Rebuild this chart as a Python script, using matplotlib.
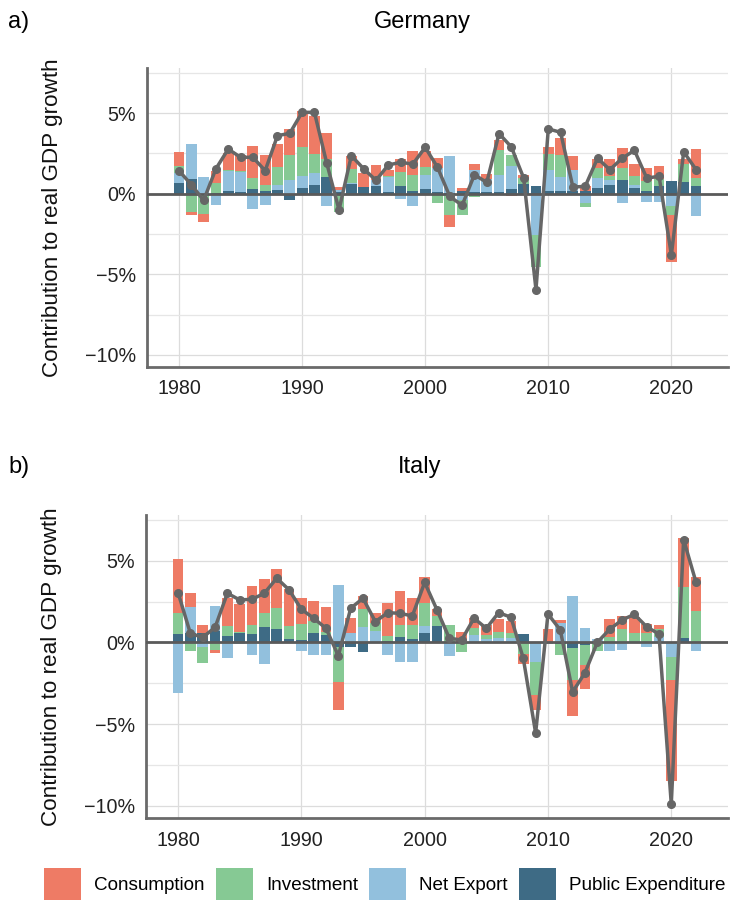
import matplotlib
matplotlib.use("Agg")
import matplotlib.pyplot as plt
from matplotlib.patches import Patch
from matplotlib.ticker import FuncFormatter, MultipleLocator
import numpy as np

plt.rcParams['font.family'] = ['Liberation Sans', 'DejaVu Sans']

years = list(range(1980, 2023))
components = ["Consumption", "Investment", "Net Export", "Public Expenditure"]
colors = ["#ee7b65", "#86c994", "#92c0dd", "#3e6b85"]

# Germany
de_cons = [0.83, -0.14, -0.54, 0.77, 1.04, 0.99, 1.99, 1.88, 1.45, 1.61,
           2.22, 2.32, 1.61, 0.14, 0.79, 0.87, 0.93, 0.39, 0.81, 1.47,
           0.97, 0.62, -0.79, 0.17, 0.35, 0.33, 0.66, -0.12, 0.17, 0.0,
           0.43, 1.04, 0.83, 0.25, 0.56, 1.06, 1.24, 0.77, 0.77, 0.83,
           -2.9, 0.3, 1.8]
de_inv = [0.46, -1.16, -1.24, 0.62, 0.1, 0.08, 0.66, 0.39, 1.1, 1.55,
          1.78, 1.2, 1.12, -1.14, 0.87, 0.0, 0.0, 0.05, 0.89, 0.97,
          0.48, -0.58, -1.3, -0.9, -0.2, 0.0, 1.51, 0.68, 0.35, -1.93,
          0.97, 1.39, 0.0, -0.27, 0.62, 0.29, 0.77, 0.52, 0.62, 0.41,
          -0.52, 1.1, 0.5]
de_netx = [0.62, 2.19, 1.03, -0.72, 1.18, 1.22, -0.95, -0.72, 0.31, 0.87,
           0.77, 0.72, -0.79, 0.15, 0.05, 0.0, 0.37, 0.91, -0.33, -0.79,
           0.89, 1.49, 2.32, -0.4, 1.4, 0.82, 1.1, 1.45, 0.0, -2.59,
           1.28, 0.89, 1.3, -0.58, 0.62, 0.27, -0.58, 0.2, -0.54, -0.54,
           -0.79, 0.0, -1.4]
de_pub = [0.66, 0.91, 0.0, 0.05, 0.2, 0.12, 0.29, 0.14, 0.25, -0.37,
          0.35, 0.56, 1.04, 0.1, 0.62, 0.41, 0.5, 0.12, 0.46, 0.2,
          0.29, 0.1, 0.05, 0.19, 0.1, 0.1, 0.08, 0.29, 0.62, 0.5,
          0.2, 0.14, 0.19, 0.2, 0.35, 0.56, 0.83, 0.35, 0.2, 0.5,
          0.77, 0.75, 0.5]
de_gdp = [1.43, 0.56, -0.41, 1.55, 2.77, 2.26, 2.26, 1.43, 3.6, 3.75,
          5.05, 5.05, 1.9, -1.0, 2.36, 1.55, 0.83, 1.78, 1.95, 1.84,
          2.88, 1.64, -0.17, -0.72, 1.18, 0.7, 3.73, 2.9, 0.97, -5.95,
          4.02, 3.81, 0.41, 0.46, 2.2, 1.49, 2.2, 2.69, 0.97, 1.08,
          -3.79, 2.6, 1.5]

# Italy
it_cons = [3.34, 0.82, 0.47, -0.16, 1.68, 1.7, 2.4, 2.09, 2.36, 2.25,
           1.6, 1.23, 1.5, -1.74, 0.88, 0.82, 0.61, 2.05, 2.05, 1.64,
           1.64, 0.41, 0.0, 0.66, 0.61, 0.61, 0.76, 0.72, -0.61, -0.88,
           0.8, 0.15, -2.19, -1.48, 0.0, 1.1, 0.74, 1.02, 0.57, 0.2,
           -6.15, 3.0, 2.1]
it_inv = [1.29, -0.51, -1.02, -0.47, 0.64, 0.05, 0.55, 0.86, 1.33, 0.82,
          0.96, 0.78, 0.2, -2.15, 0.0, 1.07, 0.45, 0.29, 0.76, 0.86,
          1.39, 0.61, 1.07, -0.57, 0.41, 0.27, 0.41, 0.31, -0.72, -2.05,
          0.0, -0.68, -1.99, -1.23, -0.55, 0.31, 0.8, 0.55, 0.55, 0.5,
          -1.43, 3.1, 1.9]
it_netx = [-3.09, 1.6, -0.27, 1.48, -0.98, -0.1, -0.78, -1.33, 0.0, 0.0,
           -0.51, -0.78, -0.78, 3.52, 0.59, 0.96, 0.72, -0.78, -1.19, -1.19,
           0.41, 0.0, -0.82, 0.0, 0.45, 0.18, 0.25, 0.25, 0.0, -1.19,
           -0.1, 1.21, 2.85, 0.86, 0.2, -0.51, -0.47, 0.0, -0.27, 0.35,
           -0.88, 0.0, -0.5]
it_pub = [0.49, 0.59, 0.59, 0.72, 0.39, 0.59, 0.51, 0.92, 0.8, 0.18,
          0.15, 0.55, 0.45, -0.27, -0.27, -0.57, 0.0, 0.1, 0.31, 0.2,
          0.59, 1.0, 0.0, 0.0, 0.0, 0.0, 0.0, 0.0, 0.49, 0.0,
          0.0, -0.1, -0.33, -0.16, 0.0, 0.0, 0.05, 0.0, 0.0, 0.0,
          0.0, 0.3, 0.0]
it_gdp = [3.05, 0.55, 0.31, 0.92, 3.01, 2.6, 2.64, 3.01, 3.93, 3.22,
          2.03, 1.48, 0.86, -0.82, 2.09, 2.7, 1.27, 1.82, 1.78, 1.62,
          3.67, 1.99, 0.25, 0.15, 1.48, 0.86, 1.82, 1.54, -0.98, -5.55,
          1.74, 0.76, -3.03, -1.86, 0.0, 0.8, 1.37, 1.72, 0.96, 0.51,
          -9.9, 6.3, 3.7]

W, H = 748, 923
fig = plt.figure(figsize=(W / 100, H / 100), dpi=100)


def draw(ax, cons, inv, netx, pub, gdp):
    x = np.array(years)
    series = [pub, netx, inv, cons]
    cols = [colors[3], colors[2], colors[1], colors[0]]
    pos_b = np.zeros(len(x))
    neg_b = np.zeros(len(x))
    for s, c in zip(series, cols):
        v = np.array(s, dtype=float)
        p = np.where(v > 0, v, 0)
        n = np.where(v < 0, v, 0)
        ax.bar(x, p, bottom=pos_b, width=0.88, color=c, linewidth=0, zorder=2)
        ax.bar(x, n, bottom=neg_b, width=0.88, color=c, linewidth=0, zorder=2)
        pos_b += p
        neg_b += n
    ax.axhline(0, color="#5a5a5a", lw=2, zorder=3)
    ax.plot(x, gdp, color="#666666", lw=2.5, marker="o", ms=5.5, zorder=4)
    ax.set_xlim(1977.4, 2024.6)
    ax.set_ylim(-10.75, 7.8)
    ax.yaxis.set_major_locator(MultipleLocator(5))
    ax.yaxis.set_minor_locator(MultipleLocator(2.5))
    ax.xaxis.set_major_locator(MultipleLocator(10))
    ax.yaxis.set_major_formatter(FuncFormatter(lambda v, p: f"{int(v)}%".replace("-", "\u2212")))
    ax.grid(True, which="major", color="#dcdcdc", lw=0.9, zorder=0)
    ax.grid(True, which="minor", axis="y", color="#e6e6e6", lw=0.9, zorder=0)
    for sp in ["top", "right"]:
        ax.spines[sp].set_visible(False)
    for sp in ["left", "bottom"]:
        ax.spines[sp].set_color("#6a6a6a")
        ax.spines[sp].set_linewidth(2)
    ax.tick_params(which="both", length=0, labelsize=14.2, colors="#222222")
    ax.tick_params(axis="y", pad=8)
    ax.tick_params(axis="x", pad=9)
    ax.set_ylabel("Contribution to real GDP growth", fontsize=16.2, color="#111111")
    ax.yaxis.set_label_coords((63 - 147) / 581, 0.5)
    ax.set_axisbelow(True)


def rect(left, top, right, bottom):
    return [left / W, 1 - bottom / H, (right - left) / W, (bottom - top) / H]


ax1 = fig.add_axes(rect(147, 68, 728, 367))
draw(ax1, de_cons, de_inv, de_netx, de_pub, de_gdp)
ax2 = fig.add_axes(rect(146, 515, 728, 818))
draw(ax2, it_cons, it_inv, it_netx, it_pub, it_gdp)

fig.text(8 / W, 1 - 22 / H, "a)", fontsize=17, va="center", ha="left")
fig.text(422 / W, 1 - 22 / H, "Germany", fontsize=17, va="center", ha="center")
fig.text(8 / W, 1 - 467 / H, "b)", fontsize=17, va="center", ha="left")
fig.text(420 / W, 1 - 467 / H, "Italy", fontsize=17, va="center", ha="center")

handles = [Patch(facecolor=c, edgecolor="none") for c in colors]
fig.legend(handles, components, loc="center left", bbox_to_anchor=(44 / W, 1 - 884 / H),
           ncol=4, frameon=False, fontsize=13.6, handlelength=1.95, handleheight=2.15,
           handletextpad=0.7, columnspacing=0.6, borderaxespad=0, borderpad=0)

fig.savefig("out.png", dpi=100)
